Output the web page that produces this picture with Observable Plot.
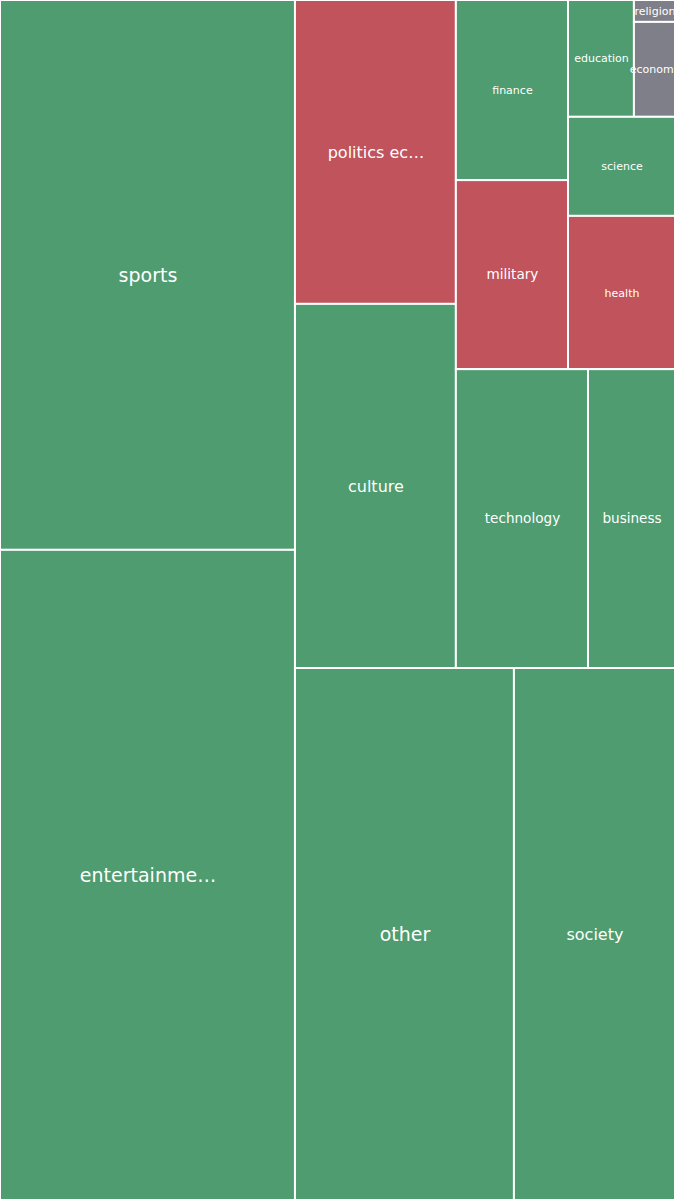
<!DOCTYPE html>
<html>
<head>
<meta charset="utf-8">
<script src="https://cdn.jsdelivr.net/npm/d3@7"></script>
<script src="https://cdn.jsdelivr.net/npm/@observablehq/plot@0.6"></script>
<style>
  html, body { margin: 0; padding: 0; background: #ffffff; }
  #chart { width: 680px; }
</style>
</head>
<body>
<div id="chart"></div>
<script>
// Categories, in layout order
const names = ["sports", "entertainment", "politics economy", "culture", "finance", "military",
  "education", "religion", "economy", "science", "health", "technology", "business", "other", "society"];
// Values
const values = [1622, 1918, 489, 586, 202, 212, 77, 9, 39, 106, 164, 395, 260, 1165, 857];
// Sentiment class of each category
const sentiments = ["positive", "positive", "negative", "positive", "positive", "negative",
  "positive", "neutral", "neutral", "positive", "negative", "positive", "positive", "positive", "positive"];
// Nesting groups of each category
const groups = ["A", "A", "B/T/P", "B/T/P", "B/T/R/U/F", "B/T/R/U/F",
  "B/T/R/U/H/E", "B/T/R/U/H/E/X", "B/T/R/U/H/E/X", "B/T/R/U/H", "B/T/R/U/H",
  "B/T/R/L", "B/T/R/L", "B/S", "B/S"];
const sentimentDomain = ["positive", "negative", "neutral"];
const sentimentColors = ["#4e9c6f", "#c0535c", "#7f7f89"];

const W = 675, H = 1200;

// build nested tree
const root = {name: "root", children: []};
names.forEach((name, i) => {
  let node = root;
  for (const seg of groups[i].split("/")) {
    let child = node.children.find(c => c.name === seg && c.children);
    if (!child) { child = {name: seg, children: []}; node.children.push(child); }
    node = child;
  }
  node.children.push({name, value: values[i], sentiment: sentiments[i], rank: 0});
});

const hier = d3.hierarchy(root).sum(d => d.value || 0);
d3.treemap().tile(d3.treemapSliceDice).size([W, H]).round(false)(hier);

const leaves = hier.leaves().map(l => ({
  name: l.data.name, value: l.data.value, sentiment: l.data.sentiment,
  x0: l.x0, x1: l.x1, y0: l.y0, y1: l.y1
}));
const sortedVals = [...values].sort((a, b) => b - a);
const fontFor = v => {
  const r = sortedVals.indexOf(v);
  return r < 3 ? 19 : r < 6 ? 16 : r < 9 ? 13.6 : 11;
};
const label = s => s.length > 11 ? s.slice(0, 11) + "…" : s;

const plot = Plot.plot({
  width: W,
  height: H,
  margin: 0,
  style: {background: "#ffffff", fontFamily: "DejaVu Sans, sans-serif"},
  x: {domain: [0, W], range: [0, W], axis: null},
  y: {domain: [0, H], range: [0, H], axis: null},
  color: {domain: sentimentDomain, range: sentimentColors},
  marks: [
    Plot.rect(leaves, {
      x1: "x0", x2: "x1", y1: "y0", y2: "y1",
      fill: "sentiment", stroke: "#ffffff", strokeWidth: 2
    }),
    Plot.text(leaves, {
      x: d => (d.x0 + d.x1) / 2,
      y: d => (d.y0 + d.y1) / 2,
      text: d => label(d.name),
      fill: "#ffffff",
      fontSize: d => fontFor(d.value),
      textAnchor: "middle"
    })
  ]
});
document.getElementById("chart").appendChild(plot);
</script>
</body>
</html>
